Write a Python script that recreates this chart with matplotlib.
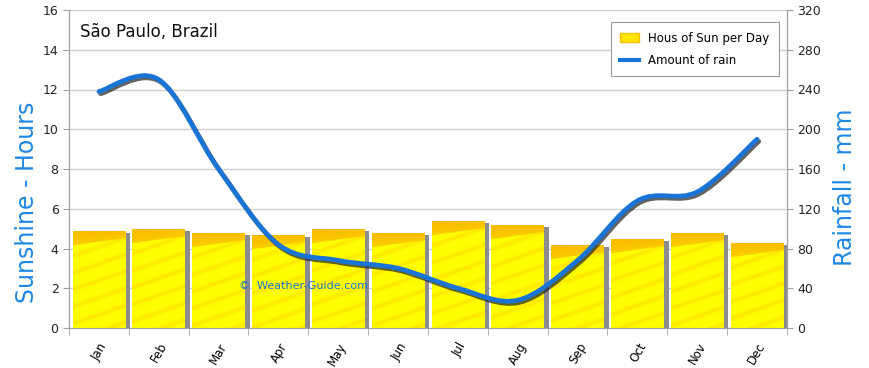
import matplotlib
matplotlib.use("Agg")
import matplotlib.pyplot as plt
import matplotlib.patheffects as pe
from matplotlib.path import Path
from matplotlib.patches import PathPatch, Rectangle, Patch
from matplotlib.lines import Line2D
import numpy as np

months = ["Jan", "Feb", "Mar", "Apr", "May", "Jun",
          "Jul", "Aug", "Sep", "Oct", "Nov", "Dec"]
sun_hours = [4.9, 5.0, 4.8, 4.7, 5.0, 4.8, 5.4, 5.2, 4.2, 4.5, 4.8, 4.3]
rain_mm = [238, 250, 160, 84, 68, 60, 40, 28, 68, 128, 137, 190]

title = "São Paulo, Brazil"
sun_label = "Hous of Sun per Day"
rain_label = "Amount of rain"

BLUE = "#1a74d6"
LABEL_BLUE = "#1e88e5"
YELLOW = np.array([1.0, 1.0, 0.0])
ORANGE = np.array([0.97, 0.66, 0.0])


def bar_texture(h, nx=40):
    # yellow fill with orange band on top and a few diagonal streaks
    ny = max(int(h / 0.02), 2)
    u = np.linspace(0, 1, nx)[None, :]
    d = np.linspace(0, h, ny)[:, None]          # depth from top, hours
    band = 0.75 - 0.35 * u
    inten = np.where(d < band, 0.6 + 0.2 * (1 - d / band), 0.0)
    streak = np.sin((d + 0.9 * u) * np.pi / 0.85) ** 10
    inten = np.clip(inten + 0.25 * streak * (d > band), 0, 1)
    img = YELLOW[None, None, :] * (1 - inten[..., None]) + ORANGE[None, None, :] * inten[..., None]
    return img


def smooth_path(xs, ys):
    # Catmull-Rom style cubic Bezier through the points (like a "smoothed" line)
    pts = np.column_stack([xs, ys]).astype(float)
    n = len(pts)
    verts = [pts[0]]
    codes = [Path.MOVETO]
    for i in range(n - 1):
        p0 = pts[i - 1] if i > 0 else pts[i]
        p1 = pts[i]
        p2 = pts[i + 1]
        p3 = pts[i + 2] if i + 2 < n else pts[i + 1]
        c1 = p1 + (p2 - p0) / 6.0
        c2 = p2 - (p3 - p1) / 6.0
        verts += [c1, c2, p2]
        codes += [Path.CURVE4] * 3
    return Path(verts, codes)


fig = plt.figure(figsize=(8.7, 3.68), dpi=100)
ax = fig.add_axes([69 / 870, 1 - 328 / 368, 718 / 870, 318 / 368])
ax2 = ax.twinx()

x = np.arange(len(months))
bar_left, bar_w, sh_w = -0.44, 0.885, 0.075

# horizontal grid
ax.set_axisbelow(True)
ax.yaxis.grid(True, color="#cfcfcf", lw=1)

for xi, h in zip(x, sun_hours):
    # shadow strip on the right side
    ax.add_patch(Rectangle((xi + bar_left + bar_w, 0), sh_w, h - 0.12,
                           facecolor="#8c8c8c", edgecolor="none", zorder=2))
    rect = Rectangle((xi + bar_left, 0), bar_w, h, facecolor=YELLOW,
                     edgecolor="none", zorder=3)
    ax.add_patch(rect)
    im = ax.imshow(bar_texture(h), extent=(xi + bar_left, xi + bar_left + bar_w, 0, h),
                   aspect="auto", origin="upper", zorder=3.5, interpolation="bilinear")
    im.set_clip_path(rect)

ax.set_xlim(-0.5, 11.5)
ax.set_ylim(0, 16)
ax.set_yticks(np.arange(0, 17, 2))
ax.set_xticks(x)
ax.set_xticklabels(months, rotation=60, ha="right", rotation_mode="anchor", fontsize=8.5)
ax.set_xticks(np.arange(-0.5, 12, 1), minor=True)
ax.tick_params(axis="x", which="major", length=0, pad=9)
ax.tick_params(axis="x", which="minor", length=5, color="#a0a0a0")
ax.tick_params(axis="y", length=4, colors="#a0a0a0", labelcolor="#222222", labelsize=9)

for a in (ax, ax2):
    a.spines["top"].set_visible(False)
    for s in ("left", "right", "bottom"):
        a.spines[s].set_color("#a0a0a0")

# rain line with drop shadow
ax2.set_ylim(0, 320)
ax2.set_yticks(np.arange(0, 321, 40))
ax2.tick_params(axis="y", length=4, colors="#a0a0a0", labelcolor="#222222", labelsize=9)
line = PathPatch(smooth_path(x, rain_mm), facecolor="none", edgecolor=BLUE,
                 lw=3.4, capstyle="round", zorder=5)
line.set_path_effects([pe.SimpleLineShadow(offset=(1.2, -1.6), shadow_color="#222222",
                                           alpha=0.7, rho=1.0),
                       pe.Normal()])
ax2.add_patch(line)

ax.text(0.015, 0.93, title, transform=ax.transAxes, fontsize=12, color="#111111",
        va="center", ha="left")
ax.text(0.327, 0.132, "©  Weather-Guide.com", transform=ax.transAxes, fontsize=8,
        color=BLUE, ha="center", va="center", zorder=6)

fig.text(27 / 870, 1 - 202 / 368, "Sunshine - Hours", rotation=90, ha="center",
         va="center", fontsize=17, color=LABEL_BLUE)
fig.text(845 / 870, 1 - 187 / 368, "Rainfall - mm", rotation=90, ha="center",
         va="center", fontsize=17, color=LABEL_BLUE)

handles = [Patch(facecolor="#ffe600", edgecolor="#f5c000"),
           Line2D([], [], color=BLUE, lw=3)]
leg = ax2.legend(handles, [sun_label, rain_label], loc="upper right",
                 bbox_to_anchor=(0.989, 0.962), borderaxespad=0, fontsize=8.5,
                 fancybox=False, framealpha=1, edgecolor="#999999",
                 handlelength=1.6, borderpad=0.8, labelspacing=0.8)
leg.get_frame().set_linewidth(0.8)

fig.savefig("out.png", dpi=100)
